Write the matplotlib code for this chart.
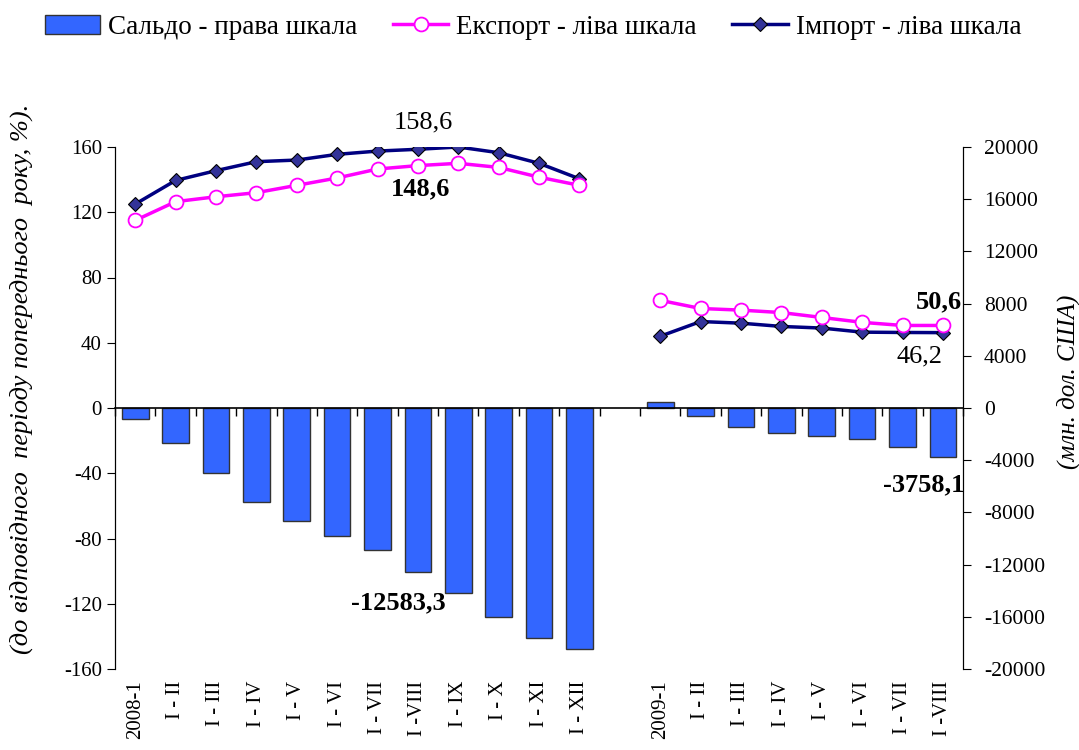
import matplotlib.pyplot as plt
import matplotlib.transforms as mtransforms
from matplotlib.patches import Patch
from matplotlib.lines import Line2D

plt.rcParams['font.family'] = ['Liberation Serif', 'DejaVu Serif']
plt.rcParams['axes.unicode_minus'] = False

# categories (2008 year-to-date, then 2009 year-to-date)
labels_2008 = ['2008-1', 'I - II', 'I - III', 'I - IV', 'I - V', 'I - VI', 'I - VII',
               'I -VIII', 'I - IX', 'I - X', 'I - XI', 'I - XII']
labels_2009 = ['2009-1', 'I - II', 'I - III', 'I - IV', 'I - V', 'I - VI', 'I - VII',
               'I -VIII']

# balance, mln USD (right scale)
saldo_2008 = [-840, -2680, -4960, -7230, -8640, -9810, -10910, -12583.3,
              -14210, -15990, -17620, -18470]
saldo_2009 = [460, -610, -1430, -1920, -2150, -2380, -2960, -3758.1]

# export / import, % to same period of previous year (left scale)
export_2008 = [115, 126.5, 129.5, 132, 136.5, 141, 146.5, 148.6, 150, 147.5, 141.5, 136.5]
export_2009 = [66, 61, 60, 58.5, 55.5, 52.5, 50.6, 50.6]
import_2008 = [125, 139.5, 145.5, 151, 152, 155.5, 157.5, 158.6, 160, 156.5, 150, 140.5]
import_2009 = [44, 53, 52, 50, 49, 46.5, 46.3, 46.2]

x08 = list(range(len(labels_2008)))
x09 = [len(labels_2008) + 1 + i for i in range(len(labels_2009))]

fig = plt.figure(figsize=(10.79, 7.5), dpi=100)
ax = fig.add_axes([0.1066, 0.108, 0.786, 0.696])
ax2 = ax.twinx()

# bars on right scale, drawn behind the lines
ax.set_zorder(ax2.get_zorder() + 1)
ax.patch.set_visible(False)

bar_color = '#3366FF'
ax2.bar(x08, saldo_2008, width=0.66, color=bar_color, edgecolor='#333333', linewidth=1)
ax2.bar(x09, saldo_2009, width=0.66, color=bar_color, edgecolor='#333333', linewidth=1)

exp_kw = dict(color='#FF00FF', lw=2.5, marker='o', markersize=10,
              markerfacecolor='white', markeredgecolor='#FF00FF', markeredgewidth=1.3)
imp_kw = dict(color='#000080', lw=2.5, marker='D', markersize=7.5,
              markerfacecolor='#333399', markeredgecolor='black', markeredgewidth=0.8)
ax.plot(x08, import_2008, **imp_kw)
ax.plot(x09, import_2009, **imp_kw)
ax.plot(x08, export_2008, **exp_kw)
ax.plot(x09, export_2009, **exp_kw)

ax.set_xlim(-0.5, x09[-1] + 0.5)
ax.set_ylim(-160, 160)
ax2.set_ylim(-20000, 20000)
ax.set_yticks(range(-160, 161, 40))
ax2.set_yticks(range(-20000, 20001, 4000))

for a in (ax, ax2):
    a.spines['top'].set_visible(False)
ax2.spines['bottom'].set_visible(False)
ax.spines['bottom'].set_position(('data', 0))
ax.spines['bottom'].set_linewidth(1.2)

# category boundaries as ticks on the zero line
bounds = [i + 0.5 for i in range(-1, x09[-1] + 1)]
ax.set_xticks(bounds)
ax.set_xticklabels([])
ax.tick_params(axis='x', direction='out', length=6, width=1)
ax.tick_params(axis='y', labelsize=15, length=6)
ax2.tick_params(axis='y', labelsize=15.5, length=6, pad=9)

trans = mtransforms.blended_transform_factory(ax.transData, ax.transAxes)
for xi, lab in zip(x08 + x09, labels_2008 + labels_2009):
    ax.text(xi, -0.022, lab, transform=trans, rotation=90, ha='center', va='top', fontsize=15)

ax.text(-0.11, 0.556, '(до відповідного  періоду попереднього  року, %).', transform=ax.transAxes,
        rotation=90, ha='center', va='center', fontsize=19, style='italic')
ax2.text(1.124, 0.55, '(млн. дол. США)', transform=ax.transAxes,
         rotation=90, ha='center', va='center', fontsize=18, style='italic')

# value annotations
ax.annotate('158,6', (x08[7], import_2008[7]), xytext=(4, 19), textcoords='offset points',
            ha='center', va='center', fontsize=19)
ax.annotate('148,6', (x08[7], export_2008[7]), xytext=(2, -17), textcoords='offset points',
            ha='center', va='center', fontsize=19, fontweight='bold')
ax.annotate('50,6', (x09[-1], export_2009[-1]), xytext=(-3, 17), textcoords='offset points',
            ha='center', va='center', fontsize=19, fontweight='bold')
ax.annotate('46,2', (x09[-1], import_2009[-1]), xytext=(-17, -17), textcoords='offset points',
            ha='center', va='center', fontsize=19)
ax2.annotate('-12583,3', (x08[7], saldo_2008[7]), xytext=(-14, -22), textcoords='offset points',
             ha='center', va='center', fontsize=19, fontweight='bold')
ax2.annotate('-3758,1', (x09[-1], saldo_2009[-1]), xytext=(-14, -20), textcoords='offset points',
             ha='center', va='center', fontsize=19, fontweight='bold')

handles = [
    Patch(facecolor=bar_color, edgecolor='#333333', label='Сальдо - права шкала'),
    Line2D([], [], label='Експорт - ліва шкала', **exp_kw),
    Line2D([], [], label='Імпорт - ліва шкала', **imp_kw),
]
fig.legend(handles=handles, loc='center', bbox_to_anchor=(0.494, 0.964), ncol=3, frameon=False,
           fontsize=19.5, handlelength=2.05, columnspacing=1.3, handletextpad=0.3)

fig.savefig('out.png', dpi=100)
